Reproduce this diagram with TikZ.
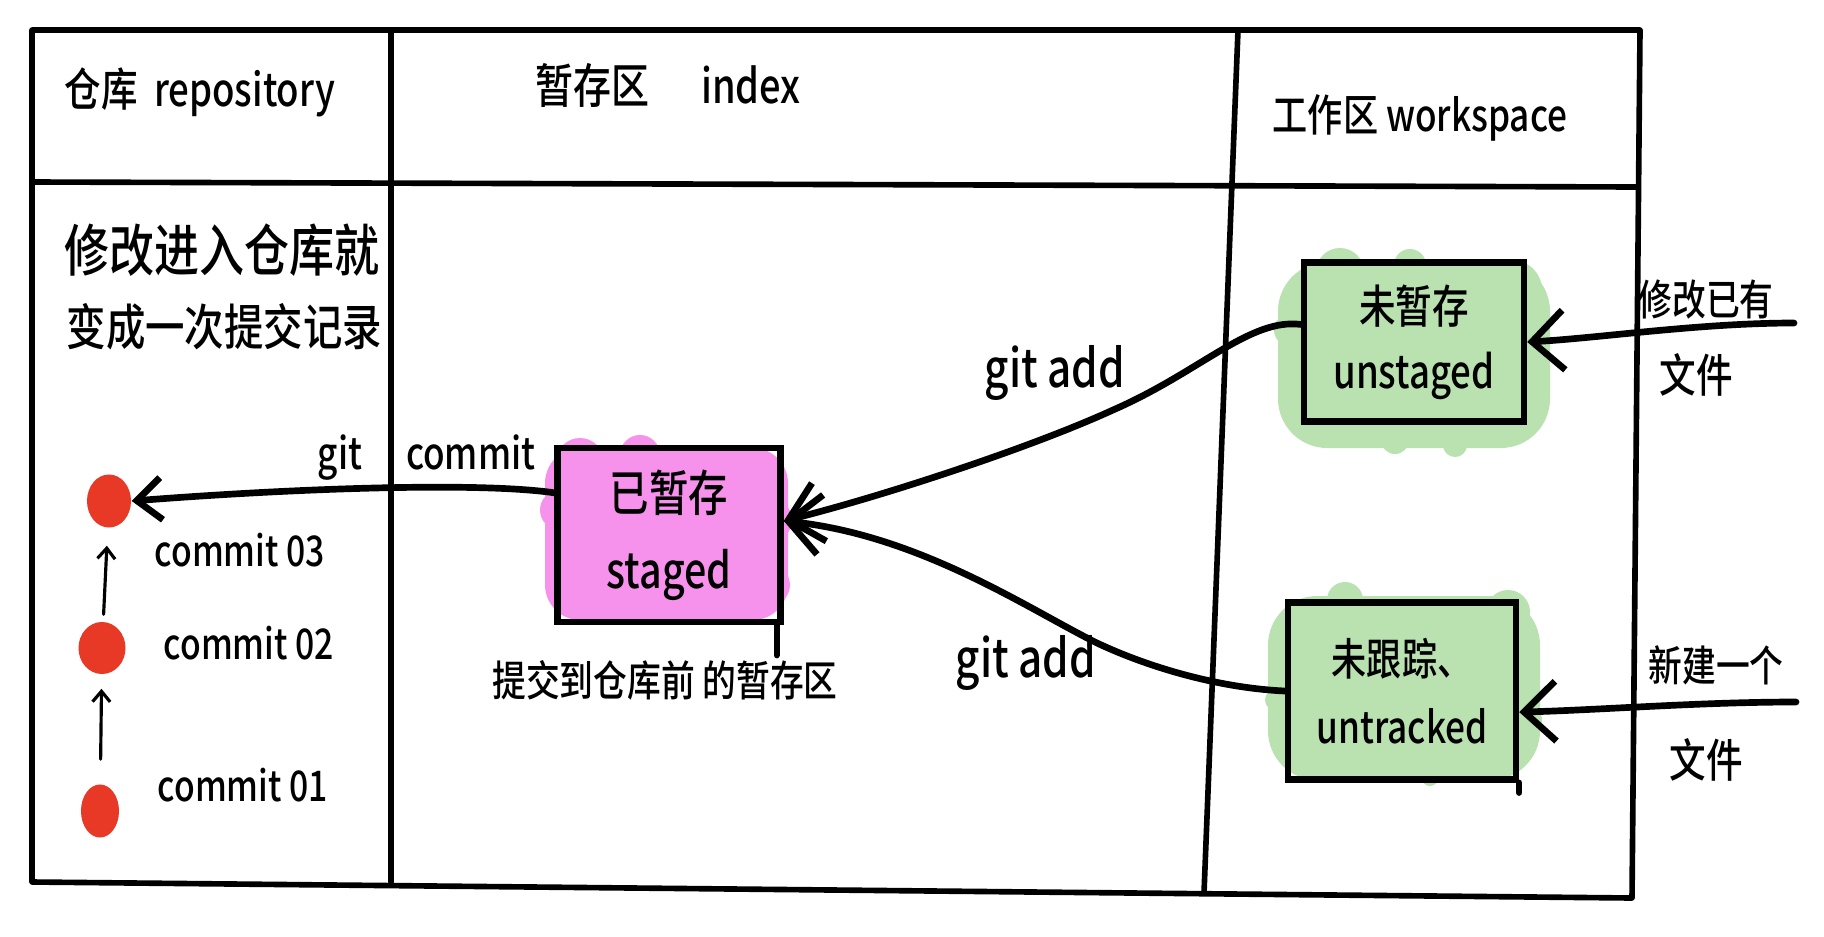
\documentclass[tikz,border=0pt]{standalone}
\usepackage{fontspec}
\setmainfont{Noto Sans CJK SC}[UprightFont={* Medium}, FakeStretch=0.8]
\usetikzlibrary{arrows.meta,shapes.geometric}
\definecolor{pinkfill}{RGB}{246,146,236}
\definecolor{greenfill}{RGB}{186,225,176}
\definecolor{dotred}{RGB}{232,56,38}
\newcommand\myfs[1]{\fontsize{#1}{#1}\selectfont}
\begin{document}
\begin{tikzpicture}[x=0.01cm,y=-0.01cm,
  frame/.style={line width=1.6pt, line cap=round, line join=round},
  statebox/.style={draw, line width=1.8pt, rectangle, inner sep=0pt, align=center},
  lbl/.style={inner sep=0pt, text=black},
  dotnode/.style={ellipse, fill=dotred, inner sep=0pt},
  flow/.style={line width=1.9pt, line cap=round, -{Straight Barb[length=9pt,width=17pt]}},
  flowc/.style={line width=1.9pt, line cap=round, -{Straight Barb[length=7pt,width=12pt]}},
  small/.style={line width=0.9pt, line cap=round, -{Straight Barb[length=3pt,width=5pt]}}]
\fill[white] (0,0) rectangle (1824,936);
\useasboundingbox (0,0) rectangle (1824,936);
% clouds
\fill[pinkfill, rounded corners=10pt] (545,448) rectangle (788,620);
\fill[pinkfill] (580,462) circle (24) (640,455) circle (20) (770,520) circle (22)
  (770,585) circle (20) (560,510) circle (20);
\fill[greenfill, rounded corners=14pt] (1278,262) rectangle (1550,448);
\fill[greenfill] (1340,272) circle (24) (1410,265) circle (16) (1512,290) circle (30)
  (1290,330) circle (16) (1455,445) circle (12) (1395,440) circle (14);
\fill[greenfill, rounded corners=14pt] (1268,596) rectangle (1540,780);
\fill[greenfill] (1345,600) circle (18) (1508,612) circle (22) (1275,700) circle (10)
  (1430,778) circle (8) (1528,720) circle (14);
% frame
\draw[frame] (32,30) -- (1640,30) -- (1632,898) -- (32,882) -- cycle;
\draw[frame] (32,182) -- (1638,187);
\draw[frame] (391,30) -- (391,882);
\draw[frame] (1238,30) -- (1204,893);
% headers
\node[lbl, anchor=west, font=\myfs{13}] (h1) at (64,92) {仓库~~repository};
\node[lbl, font=\myfs{13.5}] (h2) at (668,85) {暂存区\hspace{1.1em}index};
\node[lbl, font=\myfs{12.5}] (h3) at (1420,118) {工作区~workspace};
% repository note
\node[lbl, anchor=west, font=\myfs{16}] (n1) at (64,250) {修改进入仓库就};
\node[lbl, anchor=west, font=\myfs{14}] (n2) at (66,327) {变成一次提交记录};
% commits
\node[dotnode, minimum width=0.44cm, minimum height=0.53cm] (d3) at (109,501) {};
\node[dotnode, minimum width=0.47cm, minimum height=0.52cm] (d2) at (102,648) {};
\node[dotnode, minimum width=0.38cm, minimum height=0.53cm] (d1) at (100,811) {};
\node[lbl, anchor=west, font=\myfs{12}] (c03) at (154,550) {commit 03};
\node[lbl, anchor=west, font=\myfs{12}] (c02) at (163,643) {commit 02};
\node[lbl, anchor=west, font=\myfs{12}] (c01) at (157,785) {commit 01};
\draw[small, shorten <=7pt, shorten >=4pt] (d1) -- (d2);
\draw[small, shorten <=2pt, shorten >=5pt] (d2) -- (d3);
% state boxes
\node[statebox, minimum width=2.23cm, minimum height=1.74cm, font=\fontsize{14}{22}\selectfont] (staged) at (669,535) {已暂存\\staged};
\node[statebox, minimum width=2.20cm, minimum height=1.59cm, font=\fontsize{13}{18.5}\selectfont] (unst) at (1414,342) {未暂存\\unstaged};
\node[statebox, minimum width=2.28cm, minimum height=1.77cm, font=\fontsize{12.5}{19.3}\selectfont] (untr) at (1402,691) {未跟踪、\\untracked};
\draw[line width=1.8pt, line cap=round] ([xshift=-2pt]staged.south east) -- ++(0,30);
\draw[line width=1.8pt, line cap=round] (untr.south east) -- ++(0,10);
\node[lbl, font=\myfs{12}] (cap) at (665,680) {提交到仓库前~的暂存区};
% right labels
\node[lbl, font=\myfs{12}] (r1) at (1706,300) {修改已有};
\node[lbl, font=\myfs{13}] (r2) at (1696,375) {文件};
\node[lbl, font=\myfs{12}] (r3) at (1716,665) {新建一个};
\node[lbl, font=\myfs{13}] (r4) at (1706,760) {文件};
% command labels
\node[lbl, anchor=west, font=\myfs{12.5}] (gc) at (317,458) {git\hspace{1em}commit};
\node[lbl, font=\myfs{15}] (ga1) at (1055,373) {git add};
\node[lbl, font=\myfs{15}] (ga2) at (1026,663) {git add};
% connectors
\coordinate (sin) at ([yshift=4pt]staged.east);
\coordinate (sout) at ([yshift=12pt]staged.west);
\coordinate (in1) at (1794,323);
\coordinate (in2) at (1796,702);
\draw[flowc] (sout) .. controls (480,482) and (300,488) .. (d3.east);
\draw[flow] ([yshift=5pt]unst.west) .. controls (1250,318) and (1200,372) .. (1113,410) .. controls (1030,448) and (880,497) .. (sin);
\draw[flow] (untr.west) .. controls (1220,688) and (1150,668) .. (1097,643) .. controls (1030,610) and (920,535) .. (sin);
\draw[flow] (in1) .. controls (1700,323) and (1600,338) .. (unst.east);
\draw[flow] (in2) .. controls (1700,702) and (1600,710) .. ([yshift=-6pt]untr.east);
\end{tikzpicture}
\end{document}
